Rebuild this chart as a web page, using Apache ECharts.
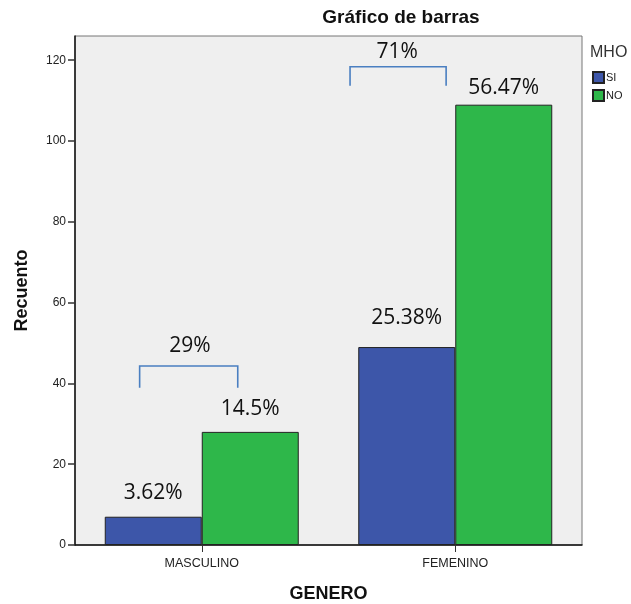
<!DOCTYPE html>
<html>
<head>
<meta charset="utf-8">
<script src="https://cdn.jsdelivr.net/npm/echarts@6/dist/echarts.min.js"></script>
<style>html,body{margin:0;padding:0;background:#fff;}#c{width:631px;height:604px;}</style>
</head>
<body>
<div id="c"></div>
<script>
// ---- data ----
const categories = ['MASCULINO', 'FEMENINO'];
const seriesNames = ['SI', 'NO'];
const siValues = [7, 49];
const noValues = [28, 109];
const siLabels = ['3.62%', '25.38%'];
const noLabels = ['14.5%', '56.47%'];
const yTicks = [0, 20, 40, 60, 80, 100, 120];
// bracket annotations
const bracketCats = [0, 1];
const bracketTop = [44.3, 118.4];
const bracketBottom = [38.9, 113.7];
const bracketTextY = [49.3, 122.1];
const bracketTexts = ['29%', '71%'];

// ---- styling (positions relative to category band) ----
const bracketXFrac = [[-0.245, 0.142], [-0.415, -0.036]];
const bracketTextXFrac = [-0.047, -0.229];
const siLabelDist = [13, 19];
const noLabelDist = [12, 6];

const chart = echarts.init(document.getElementById('c'));
const pctFont = '"Open Sans", "Noto Sans", sans-serif';
const sans = '"Liberation Sans", Arial, sans-serif';

function barData(vals, labels, dists) {
  return vals.map((v, i) => ({
    value: v,
    label: { show: true, position: 'top', distance: dists[i], formatter: labels[i],
      fontSize: 21, fontFamily: pctFont, color: '#111' }
  }));
}

const bracketData = bracketCats.map((c, i) => [c, bracketTop[i], bracketBottom[i], bracketTextY[i], i]);

const option = {
  animation: false,
  backgroundColor: '#ffffff',
  title: [
    { text: 'Gráfico de barras', left: 401, top: 8, textAlign: 'center', padding: 0,
      textStyle: { fontFamily: sans, fontWeight: 'bold', fontSize: 19, color: '#111' } },
    { text: 'MHO', left: 590, top: 45, padding: 0,
      textStyle: { fontFamily: sans, fontWeight: 'normal', fontSize: 16, color: '#333' } }
  ],
  legend: {
    data: seriesNames, orient: 'vertical', left: 592, top: 71, padding: 0,
    itemWidth: 11, itemHeight: 11, itemGap: 5,
    textStyle: { fontFamily: sans, fontSize: 11, color: '#222', padding: [0, 0, 0, -3] },
    icon: 'rect'
  },
  grid: { left: 75, right: 49, top: 36, bottom: 59, show: true, backgroundColor: '#efefef',
    borderColor: '#777', borderWidth: 1, containLabel: false, outerBoundsMode: 'none' },
  xAxis: {
    type: 'category', data: categories,
    name: 'GENERO', nameLocation: 'middle', nameGap: 40,
    nameTextStyle: { fontFamily: sans, fontWeight: 'bold', fontSize: 18, color: '#111' },
    axisLine: { lineStyle: { color: '#111', width: 1.5 } },
    axisTick: { show: true, alignWithLabel: true, length: 7, lineStyle: { color: '#333' } },
    axisLabel: { fontFamily: sans, fontSize: 12.5, color: '#222', margin: 12 },
    splitLine: { show: false }
  },
  yAxis: {
    type: 'value', min: 0, max: 126,
    name: 'Recuento', nameLocation: 'middle', nameGap: 44, nameRotate: 90,
    nameTextStyle: { fontFamily: sans, fontWeight: 'bold', fontSize: 18, color: '#111' },
    axisLine: { show: true, lineStyle: { color: '#111', width: 1.5 } },
    axisTick: { show: true, length: 7, customValues: yTicks, lineStyle: { color: '#333', width: 1.5 } },
    axisLabel: { fontFamily: sans, fontSize: 12, color: '#222', margin: 9, customValues: yTicks },
    splitLine: { show: false }
  },
  series: [
    { name: 'SI', type: 'bar', data: barData(siValues, siLabels, siLabelDist), barWidth: 97, barGap: '0%',
      itemStyle: { color: '#3d56a9', borderColor: '#222', borderWidth: 1 } },
    { name: 'NO', type: 'bar', data: barData(noValues, noLabels, noLabelDist), barWidth: 97, barGap: '0%',
      itemStyle: { color: '#2eb74a', borderColor: '#222', borderWidth: 1 } },
    { name: 'brackets', type: 'custom', silent: true, z: 5,
      data: bracketData,
      renderItem: function (params, api) {
        const c = api.value(0), yt = api.value(1), yb = api.value(2), ytx = api.value(3), idx = api.value(4);
        const bw = api.size([1, 0])[0];
        const top = api.coord([c, yt]);
        const bot = api.coord([c, yb]);
        const txt = api.coord([c, ytx]);
        const x1 = top[0] + bracketXFrac[idx][0] * bw;
        const x2 = top[0] + bracketXFrac[idx][1] * bw;
        return {
          type: 'group',
          children: [
            { type: 'polyline', shape: { points: [[x1, bot[1]], [x1, top[1]], [x2, top[1]], [x2, bot[1]]] },
              style: { stroke: '#4a7fc1', lineWidth: 1.6, fill: null } },
            { type: 'text', x: txt[0] + bracketTextXFrac[idx] * bw, y: txt[1],
              style: { text: bracketTexts[idx], fontSize: 21, fontFamily: pctFont, fill: '#111',
                align: 'center', verticalAlign: 'middle' } }
          ]
        };
      }
    }
  ]
};
chart.setOption(option);
</script>
</body>
</html>
